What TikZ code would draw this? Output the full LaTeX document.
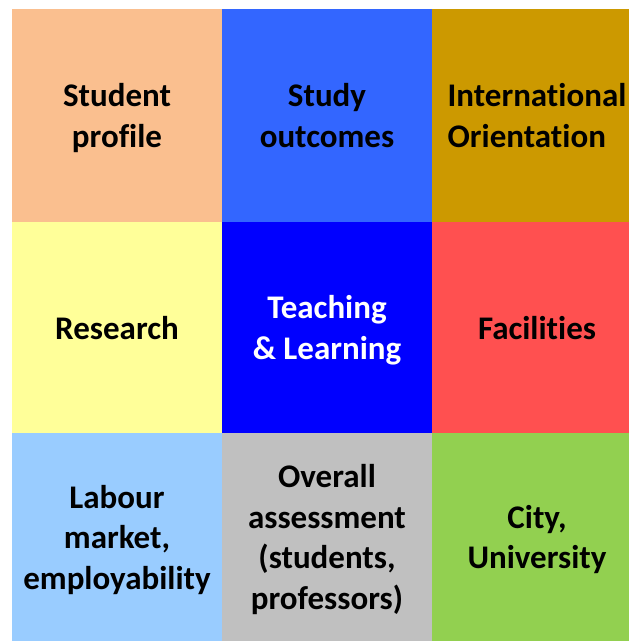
\documentclass[tikz,border=0pt]{standalone}
\usepackage{fontspec}
\setmainfont[Ligatures=NoCommon]{Carlito}
\usepackage{tikz}
\definecolor{peach}{HTML}{FABF8F}
\definecolor{midblue}{HTML}{3366FF}
\definecolor{ochre}{HTML}{CC9900}
\definecolor{paleyellow}{HTML}{FFFF99}
\definecolor{deepblue}{HTML}{0000FF}
\definecolor{coral}{HTML}{FF5050}
\definecolor{skyblue}{HTML}{99CCFF}
\definecolor{silvergrey}{HTML}{C0C0C0}
\definecolor{leafgreen}{HTML}{92D050}

\begin{document}
\begin{tikzpicture}[x=1pt, y=-1pt,
  cell/.style = {anchor=north west, minimum width=210pt, inner sep=0pt, outer sep=0pt, align=center, text depth=0pt, font=\bfseries\fontsize{33}{40.5}\selectfont},
  top/.style = {cell, minimum height=213pt},
  mid/.style = {cell, minimum height=211pt},
  low/.style = {cell, minimum height=208pt}]
\clip (0,0) rectangle (629,641);
\fill[white] (0,0) rectangle (629,641);
% first row
\node[top, fill=peach] (1) at (12,9) {Student\\profile};
\node[top, fill=midblue] (2) at (222,9) {Study\\outcomes};
\node[top, fill=ochre, align=left] (3) at (432,9) {International\\Orientation};
% second row
\node[mid, fill=paleyellow] (4) at (12,222) {Research};
\node[mid, fill=deepblue, text=white] (5) at (222,222) {Teaching\\\& Learning};
\node[mid, fill=coral] (6) at (432,222) {Facilities};
% third row
\node[low, fill=skyblue] (7) at (12,433) {Labour\\market,\\employability};
\node[low, fill=silvergrey] (8) at (222,433) {Overall\\assessment\\(students,\\professors)};
\node[low, fill=leafgreen] (9) at (432,433) {City,\\University};
\end{tikzpicture}
\end{document}
